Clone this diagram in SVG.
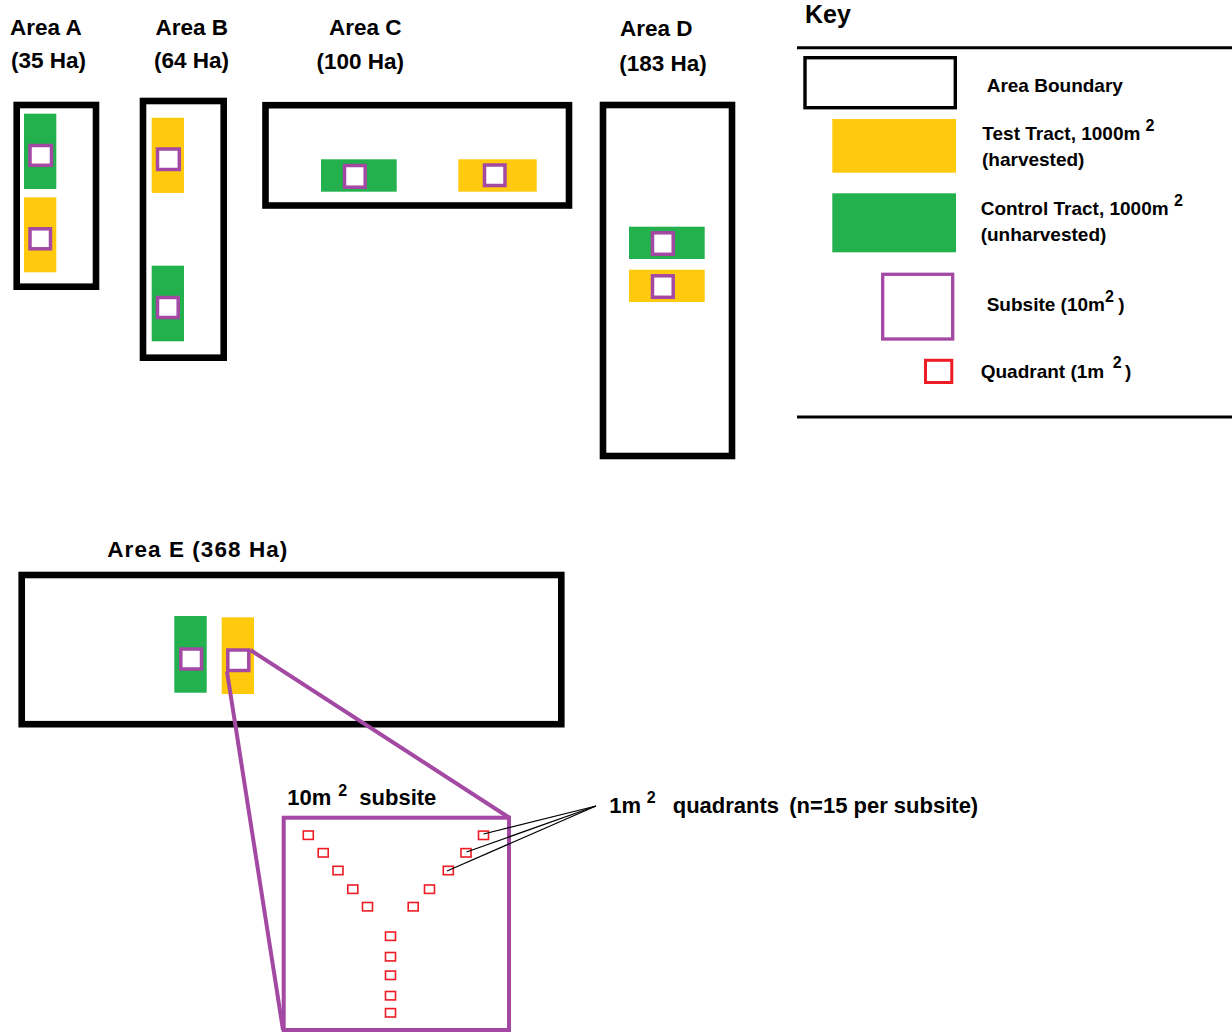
<svg xmlns="http://www.w3.org/2000/svg" width="1232" height="1032" viewBox="0 0 1232 1032">
<style>
text{font-family:"Liberation Sans",Arial,sans-serif;font-weight:bold;fill:#000}
.lbl{font-size:22.5px}
.key{font-size:19px}
.sup{font-size:16px}
.bound{fill:none;stroke:#000;stroke-width:6.6}
.test{fill:#ffc90e}
.ctrl{fill:#22b14c}
.sub{fill:#fff;stroke:#a349a4;stroke-width:3.5}
.quad{fill:none;stroke:#ed1c24;stroke-width:1.6}
.zoomline{fill:none;stroke:#a349a4;stroke-width:4}
.leader{fill:none;stroke:#000;stroke-width:1.2}
</style>
<rect width="1232" height="1032" fill="#fff"/>

<g id="area-a">
<text class="lbl" x="10" y="35">Area A</text>
<text class="lbl" x="11" y="68">(35 Ha)</text>
<rect class="bound" x="16.7" y="105" width="79.3" height="181.7"/>
<rect class="ctrl" x="24" y="113.7" width="32.3" height="75.3"/>
<rect class="sub" x="30" y="145.5" width="21.5" height="19.8"/>
<rect class="test" x="24" y="197.3" width="32.3" height="75"/>
<rect class="sub" x="30" y="228.8" width="20.5" height="20"/>
</g>

<g id="area-b">
<text class="lbl" x="155.5" y="35">Area B</text>
<text class="lbl" x="154" y="67.7">(64 Ha)</text>
<rect class="bound" x="143" y="101" width="80.7" height="256.7"/>
<rect class="test" x="151.7" y="117.7" width="32.3" height="75.3"/>
<rect class="sub" x="157.5" y="149" width="21.8" height="20.5"/>
<rect class="ctrl" x="151.7" y="265.7" width="32.3" height="75.6"/>
<rect class="sub" x="157.5" y="297.5" width="20.7" height="20"/>
</g>

<g id="area-c">
<text class="lbl" x="329" y="35">Area C</text>
<text class="lbl" x="316.5" y="69">(100 Ha)</text>
<rect class="bound" x="265.5" y="105.2" width="303.5" height="100.3"/>
<rect class="ctrl" x="321" y="159.3" width="75.7" height="32.4"/>
<rect class="sub" x="344.5" y="165.5" width="20.7" height="21.7"/>
<rect class="test" x="458.3" y="159.3" width="78.4" height="32.4"/>
<rect class="sub" x="484.5" y="165" width="20.5" height="20.5"/>
</g>

<g id="area-d">
<text class="lbl" x="620" y="36">Area D</text>
<text class="lbl" x="619.3" y="71">(183 Ha)</text>
<rect class="bound" x="603" y="105" width="129" height="351"/>
<rect class="ctrl" x="629" y="226.7" width="75.7" height="32.3"/>
<rect class="sub" x="652.5" y="232.8" width="20.7" height="21.5"/>
<rect class="test" x="629" y="269.7" width="75.7" height="32.3"/>
<rect class="sub" x="652.5" y="275.8" width="20.7" height="21.5"/>
</g>

<g id="area-e">
<text class="lbl" x="107.3" y="557.3" textLength="180" lengthAdjust="spacing">Area E (368 Ha)</text>
<rect class="bound" x="21.7" y="575" width="539.6" height="149.2"/>
<rect class="ctrl" x="174.3" y="616" width="32.4" height="76.7"/>
<rect class="sub" x="180.8" y="649" width="20.7" height="20"/>
<rect class="test" x="221.7" y="617.3" width="32.3" height="76.7"/>
<rect class="sub" x="227.8" y="650" width="21" height="20.5"/>
</g>

<g id="key">
<text x="805" y="23" style="font-size:25px">Key</text>
<line x1="797" y1="47.8" x2="1232" y2="47.8" stroke="#000" stroke-width="3"/>
<rect x="805" y="57.7" width="150.3" height="50" fill="none" stroke="#000" stroke-width="3.4"/>
<text class="key" x="986.7" y="92.3">Area Boundary</text>
<rect class="test" x="832.3" y="119" width="123.7" height="53.7"/>
<text class="key" x="982.3" y="140">Test Tract, 1000m</text>
<text class="sup" x="1145.5" y="131">2</text>
<text class="key" x="982" y="165.7">(harvested)</text>
<rect class="ctrl" x="832.3" y="193.3" width="123.7" height="59"/>
<text class="key" x="980.7" y="215">Control Tract, 1000m</text>
<text class="sup" x="1174" y="206">2</text>
<text class="key" x="980.7" y="240.7">(unharvested)</text>
<rect x="882.7" y="274.3" width="70" height="64.7" fill="none" stroke="#a349a4" stroke-width="3.3"/>
<text class="key" x="986.7" y="311">Subsite (10m</text>
<text class="sup" x="1105" y="301.7">2</text>
<text class="key" x="1118.3" y="311">)</text>
<rect x="925.5" y="360.3" width="26.3" height="22.2" fill="none" stroke="#ed1c24" stroke-width="3"/>
<text class="key" x="980.7" y="378.3">Quadrant (1m</text>
<text class="sup" x="1112.7" y="368">2</text>
<text class="key" x="1125" y="378.3">)</text>
<line x1="797" y1="417" x2="1232" y2="417" stroke="#000" stroke-width="3"/>
</g>

<g id="subsite-detail">
<text class="lbl" x="287.3" y="805" style="font-size:22px">10m</text>
<text class="sup" x="338.3" y="796">2</text>
<text class="lbl" x="359.3" y="805" style="font-size:22px">subsite</text>
<rect x="283.7" y="817.7" width="225.3" height="212.3" fill="none" stroke="#a349a4" stroke-width="4"/>
<g id="quadrants">
<rect class="quad" x="303.3" y="831" width="10" height="8.4"/>
<rect class="quad" x="318.2" y="848.6" width="10" height="8.4"/>
<rect class="quad" x="333" y="866.3" width="10" height="8.4"/>
<rect class="quad" x="347.8" y="885" width="10" height="8.4"/>
<rect class="quad" x="362.5" y="902.5" width="10" height="8.4"/>
<rect class="quad" x="408.2" y="902.5" width="10" height="8.4"/>
<rect class="quad" x="424.5" y="885" width="10" height="8.4"/>
<rect class="quad" x="443.3" y="866.3" width="10" height="8.4"/>
<rect class="quad" x="461" y="848.6" width="10" height="8.4"/>
<rect class="quad" x="478.5" y="831.1" width="10" height="8.4"/>
<rect class="quad" x="385.5" y="932" width="10" height="8.4"/>
<rect class="quad" x="385.5" y="952.5" width="10" height="8.4"/>
<rect class="quad" x="385.5" y="971.1" width="10" height="8.4"/>
<rect class="quad" x="385.5" y="991.5" width="10" height="8.4"/>
<rect class="quad" x="385.5" y="1008.6" width="10" height="8.4"/>
</g>
</g>

<g id="quadrant-label">
<text class="lbl" x="609.3" y="813.3" style="font-size:22px">1m</text>
<text class="sup" x="646.7" y="803.3">2</text>
<text class="lbl" x="672.7" y="813.3" style="font-size:22px">quadrants</text>
<text class="lbl" x="789.3" y="813.3" style="font-size:22px">(n=15 per subsite)</text>
</g>

<g id="connectors">
<line class="zoomline" x1="250.5" y1="650" x2="509" y2="817.5"/>
<line class="zoomline" x1="227" y1="671.5" x2="283" y2="1030"/>
<line class="leader" x1="596" y1="806" x2="483.5" y2="834"/>
<line class="leader" x1="596" y1="806" x2="466.5" y2="852"/>
<line class="leader" x1="596" y1="806" x2="447" y2="871"/>
</g>
</svg>
